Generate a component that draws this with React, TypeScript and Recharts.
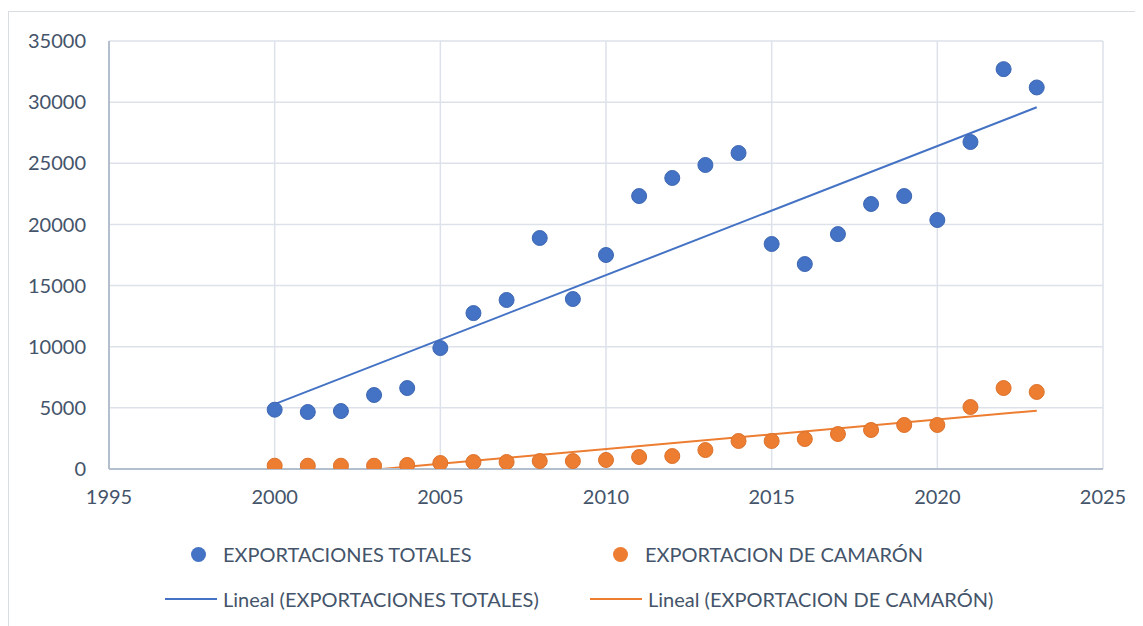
import React from "react";
import {
  ComposedChart,
  Scatter,
  Line,
  XAxis,
  YAxis,
  CartesianGrid,
} from "recharts";

// Valores (millones USD)
const anios = [
  2000, 2001, 2002, 2003, 2004, 2005, 2006, 2007, 2008, 2009, 2010, 2011,
  2012, 2013, 2014, 2015, 2016, 2017, 2018, 2019, 2020, 2021, 2022, 2023,
];
const totales = [
  4850, 4660, 4740, 6050, 6620, 9890, 12750, 13820, 18890, 13900, 17500, 22320,
  23800, 24860, 25840, 18400, 16760, 19210, 21670, 22320, 20360, 26740, 32700, 31200,
];
const camaron = [
  270, 270, 270, 270, 330, 490, 570, 570, 650, 650, 740, 980,
  1060, 1550, 2290, 2290, 2450, 2860, 3190, 3600, 3600, 5070, 6620, 6300,
];
// Líneas de tendencia (extremos)
const aniosTendencia = [2000, 2023];
const tendTotales = [5300, 29580];
const tendCamaron = [-780, 4770];

const xTicks = [1995, 2000, 2005, 2010, 2015, 2020, 2025];
const yTicks = [0, 5000, 10000, 15000, 20000, 25000, 30000, 35000];

const AZUL = "#4472C4";
const NARANJA = "#ED7D31";
const TEXTO = "#44546A";
const FUENTE = "Lato, 'Open Sans', sans-serif";

const datos = anios.map((a, i) => {
  const k = aniosTendencia.indexOf(a);
  return {
    anio: a,
    total: totales[i],
    camaron: camaron[i],
    tTotal: k >= 0 ? tendTotales[k] : undefined,
    tCamaron: k >= 0 ? tendCamaron[k] : undefined,
  };
});

const punto = (color: string, borde: string) => (p: any) =>
  p.cx == null ? <g /> : (
    <circle cx={p.cx} cy={p.cy} r={7.5} fill={color} stroke={borde} strokeWidth={1} />
  );

export default function App() {
  const tick = { fill: TEXTO, fontSize: 20, fontFamily: FUENTE };
  return (
    <>
      <style>{`html,body{overflow:hidden}`}</style>
      <div
        style={{
          position: "relative",
          marginTop: 3,
          width: 1140,
          height: 620,
          border: "1px solid #d9dce1",
          boxSizing: "border-box",
          background: "#fff",
          fontFamily: FUENTE,
        }}
      >
        <ComposedChart
          width={1120}
          height={510}
          data={datos}
          margin={{ top: 29, right: 26, bottom: 0, left: 0 }}
        >
          <CartesianGrid stroke="#dde2ea" strokeWidth={1.5} />
          <XAxis
            type="number"
            dataKey="anio"
            domain={[1995, 2025]}
            ticks={xTicks}
            tick={tick}
            tickLine={false}
            tickMargin={15}
            axisLine={{ stroke: "#b4bfce", strokeWidth: 2 }}
            height={53}
          />
          <YAxis
            type="number"
            domain={[0, 35000]}
            ticks={yTicks}
            allowDataOverflow
            tick={tick}
            tickLine={false}
            tickMargin={17}
            axisLine={{ stroke: "#b4bfce", strokeWidth: 2 }}
            width={100}
          />
          <Line
            dataKey="tTotal"
            type="linear"
            stroke={AZUL}
            strokeWidth={2}
            dot={false}
            connectNulls
            isAnimationActive={false}
          />
          <Line
            dataKey="tCamaron"
            type="linear"
            stroke={NARANJA}
            strokeWidth={2}
            dot={false}
            connectNulls
            isAnimationActive={false}
          />
          <Scatter
            dataKey="total"
            fill={AZUL}
            shape={punto(AZUL, "#3d67b3")}
            isAnimationActive={false}
          />
          <Scatter
            dataKey="camaron"
            fill={NARANJA}
            shape={punto(NARANJA, "#dc712a")}
            isAnimationActive={false}
          />
        </ComposedChart>

        {/* Leyenda */}
        {[
          { x: 182, y: 528, tipo: "punto", color: AZUL, texto: "EXPORTACIONES TOTALES" },
          { x: 604, y: 528, tipo: "punto", color: NARANJA, texto: "EXPORTACION DE CAMARÓN" },
          { x: 156, y: 573, tipo: "linea", color: AZUL, texto: "Lineal (EXPORTACIONES TOTALES)" },
          { x: 581, y: 573, tipo: "linea", color: NARANJA, texto: "Lineal (EXPORTACION DE CAMARÓN)" },
        ].map((l) => (
          <div
            key={l.texto}
            style={{
              position: "absolute",
              left: l.x,
              top: l.y,
              height: 28,
              display: "flex",
              alignItems: "center",
              color: TEXTO,
              fontSize: 20,
              whiteSpace: "nowrap",
            }}
          >
            {l.tipo === "punto" ? (
              <span
                style={{
                  width: 15,
                  height: 15,
                  borderRadius: "50%",
                  background: l.color,
                  marginRight: 17,
                }}
              />
            ) : (
              <span
                style={{
                  width: 52,
                  height: 2,
                  background: l.color,
                  marginRight: 6,
                }}
              />
            )}
            {l.texto}
          </div>
        ))}
      </div>
    </>
  );
}
